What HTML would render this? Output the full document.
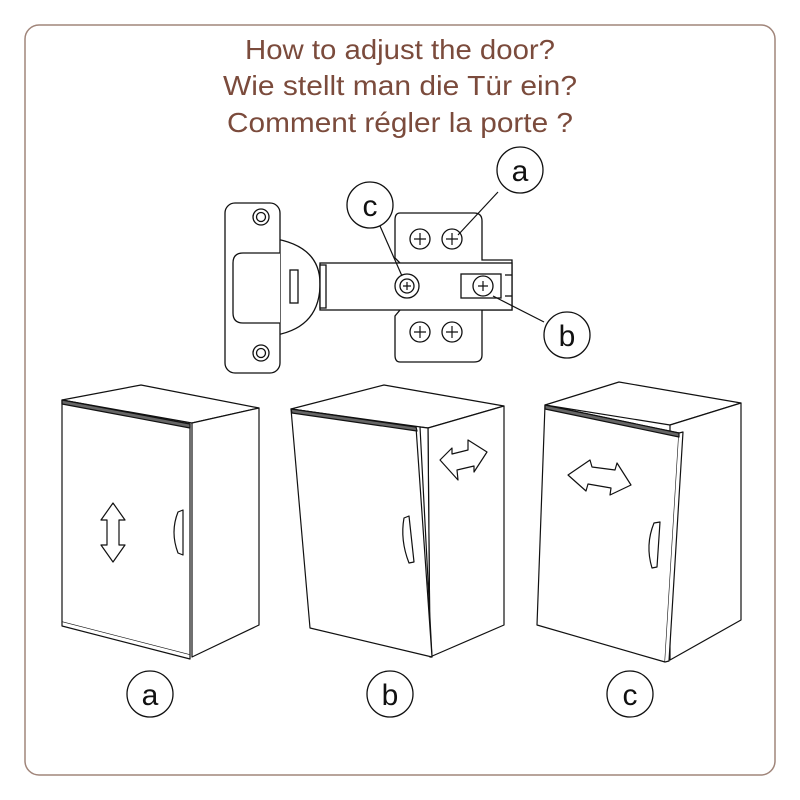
<!DOCTYPE html>
<html><head><style>
body{margin:0;background:#fff;}
svg{display:block;}
text{font-family:"Liberation Sans",sans-serif;}
</style></head><body>
<svg width="800" height="800" viewBox="0 0 800 800">
<rect x="25" y="25" width="750" height="750" rx="14" fill="#fff" stroke="#a0857a" stroke-width="1.5"/>
<g fill="#7b4b3c" font-size="28" text-anchor="middle">
<text x="400" y="59" textLength="310" lengthAdjust="spacingAndGlyphs">How to adjust the door?</text>
<text x="400" y="95" textLength="354" lengthAdjust="spacingAndGlyphs">Wie stellt man die Tür ein?</text>
<text x="400" y="132" textLength="346" lengthAdjust="spacingAndGlyphs">Comment régler la porte ?</text>
</g>
<g fill="#fff" stroke="#111" stroke-width="1.3">
<path d="M270,238 Q322,245 320,287 Q318,330 270,336 Z" />
<rect x="225" y="203" width="55" height="170" rx="10"/>
<circle cx="261" cy="217" r="8"/><circle cx="261" cy="217" r="4.5"/>
<circle cx="261" cy="353" r="8"/><circle cx="261" cy="353" r="4.5"/>
<path d="M280,253 H243 Q233,253 233,263 V313 Q233,323 243,323 H280"/>
<path d="M400,213 H474 Q482,213 482,221 V260 H512 V310 H482 V355 Q482,362 474,362 H400 Q395,362 395,355 V316 L400,310 V263 L395,258 V220 Q395,213 400,213Z"/>
<rect x="320" y="263" width="192" height="47"/>
<rect x="290" y="270" width="8" height="33"/>
<rect x="320" y="265" width="6" height="43"/>
<rect x="461" y="274" width="40" height="24"/>
<line x1="505" y1="275" x2="512" y2="275"/><line x1="505" y1="296" x2="512" y2="296"/>
<circle cx="407" cy="286" r="12"/><circle cx="407" cy="286" r="7"/>
<circle cx="483" cy="286" r="10"/>
<circle cx="420" cy="239" r="10"/><circle cx="452" cy="239" r="10"/>
<circle cx="420" cy="332" r="10"/><circle cx="452" cy="332" r="10"/>
</g>
<g stroke="#111" stroke-width="1.2">
<path d="M403,286h8M407,282v8M478,286h10M483,281v10M414,239h12M420,233v12M446,239h12M452,233v12M414,332h12M420,326v12M446,332h12M452,326v12"/>
<line x1="498" y1="192" x2="458" y2="235"/>
<line x1="380" y1="226" x2="402" y2="276"/>
<line x1="544" y1="322" x2="493" y2="296"/>
</g>
<g fill="#fff" stroke="#111" stroke-width="1.3">
<circle cx="520" cy="170" r="23"/><circle cx="370" cy="205" r="23"/><circle cx="567" cy="335" r="23"/>
<circle cx="150" cy="694" r="23"/><circle cx="390" cy="694" r="23"/><circle cx="630" cy="694" r="23"/>
</g>
<g font-size="30" text-anchor="middle" fill="#111">
<text x="520" y="181">a</text><text x="370" y="216">c</text><text x="567" y="346">b</text>
<text x="150" y="705">a</text><text x="390" y="705">b</text><text x="630" y="705">c</text>
</g>
<g fill="#fff" stroke="#111" stroke-width="1.2" stroke-linejoin="round">
<path d="M62,400 L141,385 L259,408 L192,423Z"/>
<path d="M192,423 L259,408 L259,625 L192,657Z"/>
<path d="M62,400 L190,424 L190,655 L62,622Z"/>
<path d="M62,622 L62,626 L190,659 L190,655"/>
<path d="M62,400 L190,424 L190,428 L62,404Z" fill="#666"/>
<path d="M178,512 L183,510 L183,555 L178,553 Q170,532 178,512Z"/>
<path d="M113,503 L125,520 L119,520 L119,545 L125,545 L113,562 L101,545 L107,545 L107,520 L101,520Z"/>
</g>
<g fill="#fff" stroke="#111" stroke-width="1.2" stroke-linejoin="round">
<path d="M291,409 L384,385 L504,406 L428,428Z"/>
<path d="M428,428 L504,406 L504,625 L430,657Z"/>
<path d="M420,427 L428,428 L430,657 L432,657Z"/>
<path d="M291,409 L416,427 L432,657 L310,628Z"/>
<path d="M291,409 L416,427 L417,431 L292,413Z" fill="#666"/>
<path d="M404,518 L409,516 L414,562 L409,563 Q400,540 404,518Z"/>
<path d="M440,460 L452,448 L452,454 L468,450 L468,440 L487,452 L474,472 L474,466 L457,470 L458,480Z"/>
</g>
<g fill="#fff" stroke="#111" stroke-width="1.2" stroke-linejoin="round">
<path d="M545,405 L619,382 L741,403 L670,425Z"/>
<path d="M670,425 L741,403 L741,620 L670,660Z"/>
<path d="M545,405 L679,433 L665,662 L537,625Z"/>
<path d="M679,433 L683,432 L669,661 L665,662"/>
<path d="M545,405 L679,433 L679,437 L545,409Z" fill="#666"/>
<path d="M654,523 L660,522 L657,567 L652,568 Q645,545 654,523Z"/>
<path d="M568,475 L590,460 L592,467 L615,470 L617,463 L631,485 L610,495 L611,488 L588,484 L586,491Z"/>
</g>
</svg>
</body></html>
